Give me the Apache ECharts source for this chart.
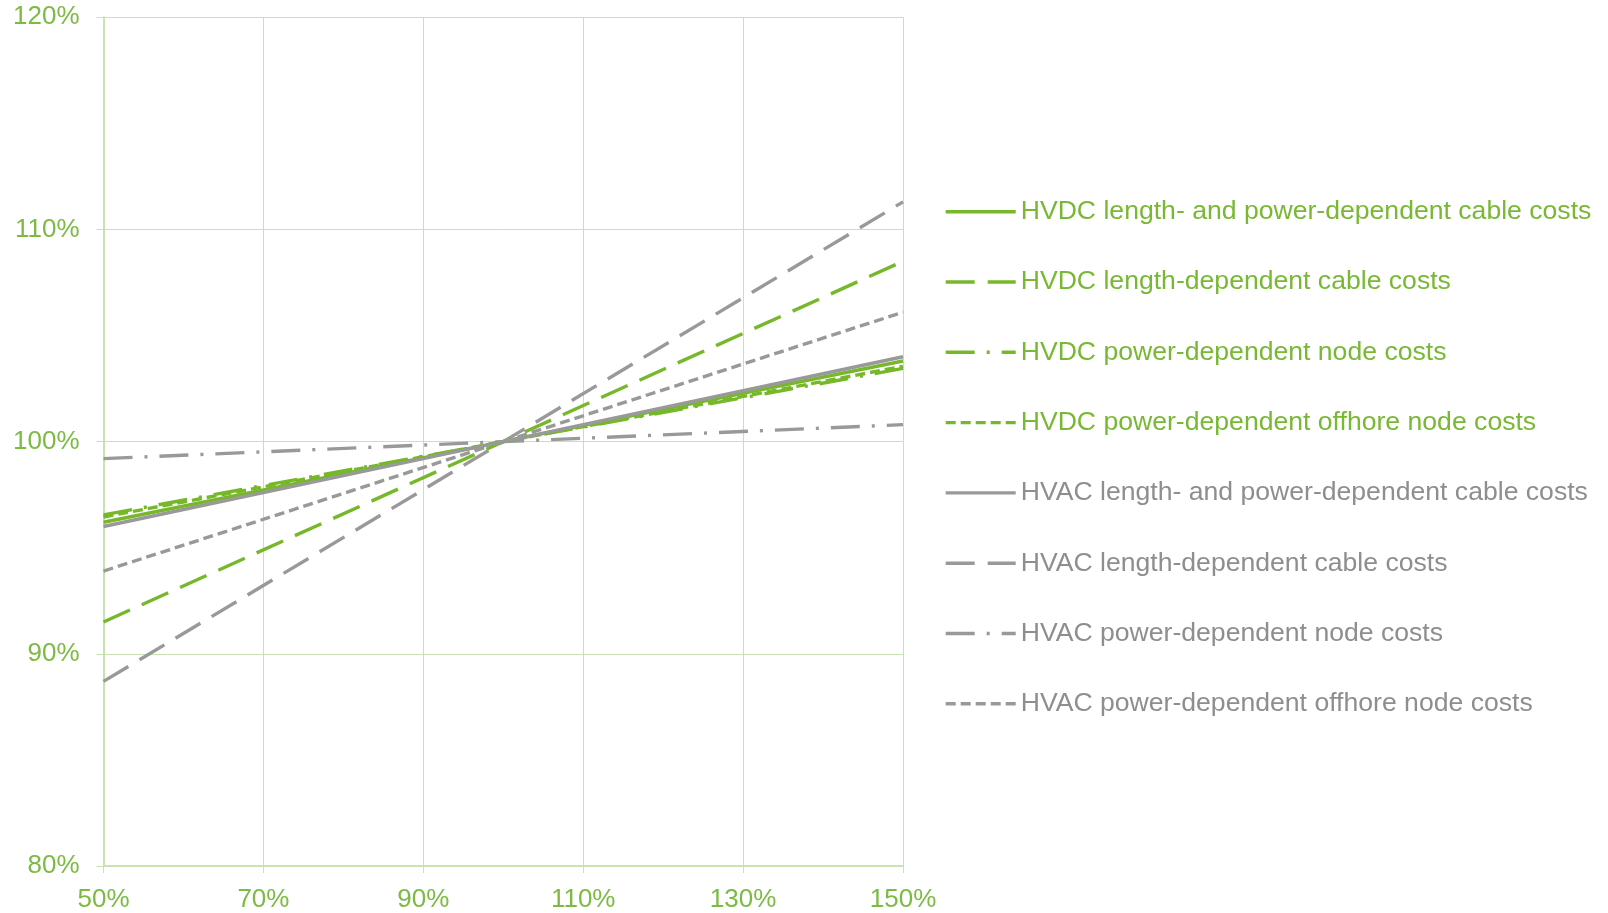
<!DOCTYPE html>
<html>
<head>
<meta charset="utf-8">
<script src="https://cdn.jsdelivr.net/npm/echarts@6/dist/echarts.min.js"></script>
<style>
html,body{margin:0;padding:0;background:#fff;}
#c{width:1608px;height:913px;}
</style>
</head>
<body>
<div id="c"></div>
<script>
// x positions (% of reference value)
const xValues = [50, 100, 150];
// series names
const seriesNames = [
  'HVDC length- and power-dependent cable costs',
  'HVDC length-dependent cable costs',
  'HVDC power-dependent node costs',
  'HVDC power-dependent offhore node costs',
  'HVAC length- and power-dependent cable costs',
  'HVAC length-dependent cable costs',
  'HVAC power-dependent node costs',
  'HVAC power-dependent offhore node costs'
];
// values (% of total costs)
const hvdcLengthPower = [96.2, 100, 103.8];
const hvdcLength = [91.5, 100, 108.5];
const hvdcNode = [96.55, 100, 103.45];
const hvdcOffshore = [96.45, 100, 103.55];
const hvacLengthPower = [96.0, 100, 104.0];
const hvacLength = [88.7, 100, 111.3];
const hvacNode = [99.2, 100, 100.8];
const hvacOffshore = [93.9, 100, 106.1];
const xTicks = [50, 70, 90, 110, 130, 150];
const yTicks = [80, 90, 100, 110, 120];

const GREEN = '#76B82A';
const GRAY = '#999999';
const LABEL_GREEN = '#7CBA42';
const GRID = '#C8E2B2';
const LW = 3.4;

const seriesData = [hvdcLengthPower, hvdcLength, hvdcNode, hvdcOffshore,
                    hvacLengthPower, hvacLength, hvacNode, hvacOffshore];
const dashTypes = ['solid', [29, 13], [29, 12, 3, 12], [10, 5],
                   'solid', [29, 13], [29, 12, 3, 12], [10, 5]];

const series = seriesData.map((vals, i) => ({
  name: seriesNames[i],
  type: 'line',
  symbol: 'none',
  showSymbol: false,
  data: vals.map((v, j) => [xValues[j], v]),
  lineStyle: {
    color: i < 4 ? GREEN : GRAY,
    width: LW,
    type: dashTypes[i]
  },
  itemStyle: {color: i < 4 ? GREEN : GRAY},
  z: 10 - (i % 4),
  silent: true,
  animation: false
}));

const chart = echarts.init(document.getElementById('c'), null, {renderer: 'canvas'});
chart.setOption({
  animation: false,
  textStyle: {fontFamily: 'Liberation Sans, Arial, sans-serif'},
  grid: {left: 103.5, right: 705, top: 17.3, bottom: 44.7, containLabel: false},
  xAxis: {
    type: 'value', min: 50, max: 150, interval: 20,
    axisLine: {show: true, lineStyle: {color: GRID, width: 2}},
    axisTick: {show: true, length: 7, lineStyle: {color: GRID, width: 1}},
    splitLine: {show: true, lineStyle: {color: GRID, width: 1}},
    axisLabel: {color: LABEL_GREEN, fontSize: 26, margin: 21,
      fontFamily: 'Liberation Sans', formatter: v => v + '%'}
  },
  yAxis: {
    type: 'value', min: 80, max: 120, interval: 10,
    axisLine: {show: true, lineStyle: {color: GRID, width: 2}},
    axisTick: {show: true, length: 7, lineStyle: {color: GRID, width: 1}},
    splitLine: {show: true, lineStyle: {color: GRID, width: 1}},
    axisLabel: {color: LABEL_GREEN, fontSize: 26, margin: 24, padding: [4, 0, 0, 0],
      fontFamily: 'Liberation Sans', formatter: v => v + '%'}
  },
  legend: {
    orient: 'vertical',
    left: 944,
    top: 196.7,
    padding: 0,
    itemWidth: 70,
    itemHeight: 14,
    itemGap: 40.3,
    data: seriesNames.map((n, i) => ({
      name: n,
      itemStyle: {opacity: 0},
      lineStyle: {color: i < 4 ? GREEN : GRAY, width: LW, type: dashTypes[i]},
      textStyle: {color: i < 4 ? '#78B833' : '#8E8E8E'}
    })),
    textStyle: {fontSize: 26.6, lineHeight: 30, fontFamily: 'Liberation Sans'},
    selectedMode: false
  },
  series: series
});
</script>
</body>
</html>
